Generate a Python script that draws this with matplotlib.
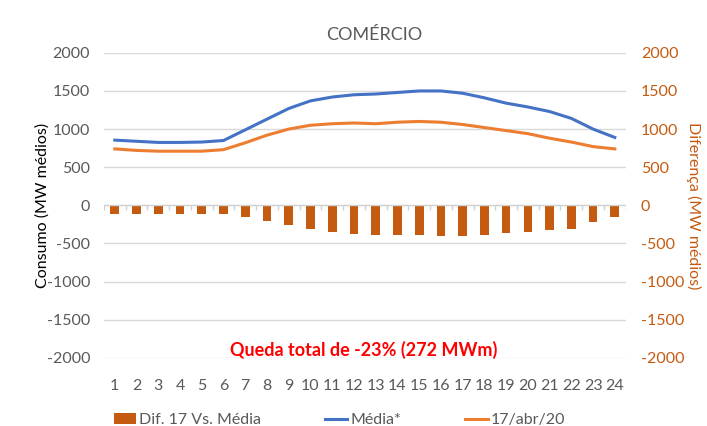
import matplotlib.pyplot as plt
import numpy as np

plt.rcParams['font.family'] = ['Lato', 'DejaVu Sans']
plt.rcParams['axes.unicode_minus'] = False

horas = list(range(1, 25))
media = [855, 840, 825, 825, 830, 850, 990, 1130, 1270, 1370, 1420, 1450,
         1460, 1480, 1500, 1500, 1470, 1410, 1340, 1290, 1230, 1140, 1000, 890]
dia_17 = [740, 720, 710, 710, 710, 730, 820, 920, 1000, 1050, 1070, 1080,
          1070, 1090, 1100, 1090, 1060, 1020, 980, 940, 880, 830, 770, 740]
dif = [-120, -120, -115, -115, -120, -120, -150, -200, -260, -310, -350, -370,
       -385, -395, -395, -405, -405, -385, -365, -345, -330, -305, -220, -150]
yticks = [-2000, -1500, -1000, -500, 0, 500, 1000, 1500, 2000]

blue = '#4472C4'
orange = '#ED7D31'
dark_orange = '#C55A11'
grey = '#595959'

fig = plt.figure(figsize=(7.07, 4.26), dpi=100)
ax = fig.add_axes([0.147, 0.16, 0.738, 0.716])
ax2 = ax.twinx()

x = np.array(horas)
ax.set_xlim(0.5, 24.5)
ax.set_ylim(-2000, 2000)
ax2.set_ylim(-2000, 2000)

for y in yticks:
    if y != 0:
        ax.axhline(y, color='#D9D9D9', linewidth=1, zorder=0)
ax.axhline(0, color='#D0D0D0', linewidth=1, zorder=1)
ax.vlines(np.arange(0.5, 25, 1), -65, 0, color='#D0D0D0', linewidth=1, zorder=1)

b = ax2.bar(x, dif, width=0.4, color=dark_orange, zorder=2, label='Dif. 17 Vs. Média')
l1, = ax.plot(x, media, color=blue, linewidth=2.2, zorder=3, label='Média*')
l2, = ax.plot(x, dia_17, color=orange, linewidth=2.2, zorder=3, label='17/abr/20')
ax.set_zorder(ax2.get_zorder() + 1)
ax.patch.set_visible(False)

for a in (ax, ax2):
    for s in a.spines.values():
        s.set_visible(False)

ax.set_yticks(yticks)
ax.tick_params(axis='y', length=0, labelsize=11.5, labelcolor=grey, pad=10)
ax.set_xticks(horas)
ax.tick_params(axis='x', length=0, labelsize=11.5, labelcolor=grey, pad=15)
ax2.set_yticks(yticks)
ax2.tick_params(axis='y', length=0, labelsize=11.5, labelcolor=dark_orange, pad=11)

ax.set_ylabel('Consumo (MW médios)', fontsize=11.5, color='black', labelpad=-2)
ax2.set_ylabel('Diferença (MW médios)', fontsize=11.5, color=dark_orange,
               rotation=270, labelpad=12)

fig.text(0.53, 0.918, 'COMÉRCIO', ha='center', va='center', fontsize=13, color=grey)
ax.text(12.45, -1900, 'Queda total de -23% (272 MWm)', ha='center', va='center',
        fontsize=13, fontweight='bold', color='#FF0000')

fig.legend([b, l1, l2], ['Dif. 17 Vs. Média', 'Média*', '17/abr/20'],
           loc='center', bbox_to_anchor=(0.48, 0.014), ncol=3, frameon=False,
           fontsize=11.5, labelcolor=grey, columnspacing=4.0, handlelength=1.4,
           handletextpad=0.2)

fig.savefig('out.png', dpi=100)
